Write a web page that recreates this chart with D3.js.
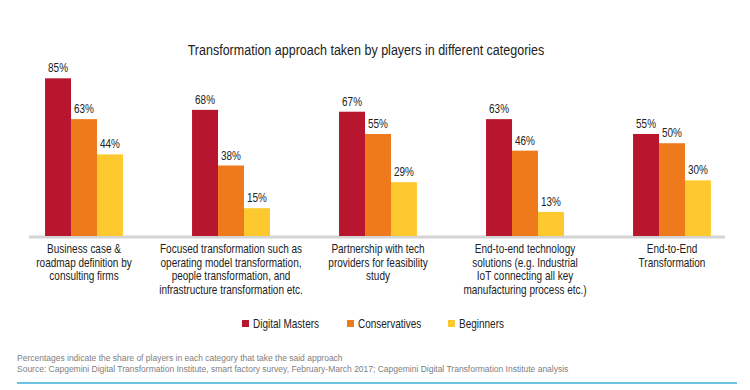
<!DOCTYPE html>
<html>
<head>
<meta charset="utf-8">
<script src="https://cdn.jsdelivr.net/npm/d3@7"></script>
<style>
  html, body { margin: 0; padding: 0; background: #fff; }
  svg { display: block; }
  text { font-family: "Liberation Sans", Arial, sans-serif; }
</style>
</head>
<body>
<svg id="chart" width="750" height="390"></svg>
<script>
const title = "Transformation approach taken by players in different categories";
const categories = [
  ["Business case &", "roadmap definition by", "consulting firms"],
  ["Focused transformation such as", "operating model transformation,", "people transformation, and", "infrastructure transformation etc."],
  ["Partnership with tech", "providers for feasibility", "study"],
  ["End-to-end technology", "solutions (e.g. Industrial", "IoT connecting all key", "manufacturing process etc.)"],
  ["End-to-End", "Transformation"]
];
const seriesNames = ["Digital Masters", "Conservatives", "Beginners"];
const digitalMasters = [85, 68, 67, 63, 55];
const conservatives = [63, 38, 55, 46, 50];
const beginners = [44, 15, 29, 13, 30];
const colors = ["#b8152e", "#ee7a1c", "#fec92e"];
const footnotes = [
  "Percentages indicate the share of players in each category that take the said approach",
  "Source: Capgemini Digital Transformation Institute, smart factory survey, February-March 2017; Capgemini Digital Transformation Institute analysis"
];

const series = [digitalMasters, conservatives, beginners];
const svg = d3.select("#chart");
const baseY = 236;
const SX = 0.81; // condensed look

function ctext(parent, x, yy, sx) {
  return parent.append("g").attr("transform", `translate(${x},${yy}) scale(${sx},1)`)
    .append("text").attr("x", 0).attr("y", 0);
}

const x0 = d3.scaleBand().domain(d3.range(categories.length))
  .range([10.5, 745.5]).paddingInner(0.47).paddingOuter(0.235);
const x1 = d3.scaleBand().domain(d3.range(series.length)).range([0, x0.bandwidth()]);
const y = d3.scaleLinear().domain([0, 100]).range([baseY, baseY - 185.5]);

// title
ctext(svg, 366, 55, 0.835).attr("text-anchor", "middle")
  .attr("font-size", 15).attr("fill", "#222").text(title);

// baseline
svg.append("line").attr("x1", 29).attr("x2", 725).attr("y1", baseY + 1).attr("y2", baseY + 1)
  .attr("stroke", "#d4d4d4").attr("stroke-width", 3);

// bars
const groups = svg.append("g").selectAll("g").data(categories).join("g")
  .attr("transform", (d, i) => `translate(${x0(i)},0)`);

groups.each(function(cat, ci) {
  const g = d3.select(this);
  series.forEach((s, si) => {
    const v = s[ci];
    g.append("rect").attr("x", x1(si)).attr("width", x1.bandwidth())
      .attr("y", y(v)).attr("height", baseY - y(v)).attr("fill", colors[si]);
    ctext(g, x1(si) + x1.bandwidth() / 2, y(v) - 6, 0.83)
      .attr("text-anchor", "middle").attr("font-size", 12).attr("fill", "#222")
      .text(v + "%");
  });
  const t = ctext(g, x0.bandwidth() / 2, 0, 0.8).attr("text-anchor", "middle")
    .attr("font-size", 12.5).attr("fill", "#222");
  cat.forEach((line, li) => {
    t.append("tspan").attr("x", 0).attr("y", 253 + li * 13.6).text(line);
  });
});

// legend
const legendX = [242, 347, 448];
seriesNames.forEach((n, i) => {
  svg.append("rect").attr("x", legendX[i]).attr("y", 320).attr("width", 7).attr("height", 7).attr("fill", colors[i]);
  ctext(svg, legendX[i] + 11, 327.5, 0.8).attr("font-size", 12.5).attr("fill", "#222").text(n);
});

// footnotes
footnotes.forEach((f, i) => {
  ctext(svg, 17, 361 + i * 11, 0.895).attr("font-size", 9.5).attr("fill", "#808080").text(f);
});

svg.append("line").attr("x1", 17).attr("x2", 737).attr("y1", 383).attr("y2", 383)
  .attr("stroke", "#3aaed8").attr("stroke-width", 1.5);
</script>
</body>
</html>
